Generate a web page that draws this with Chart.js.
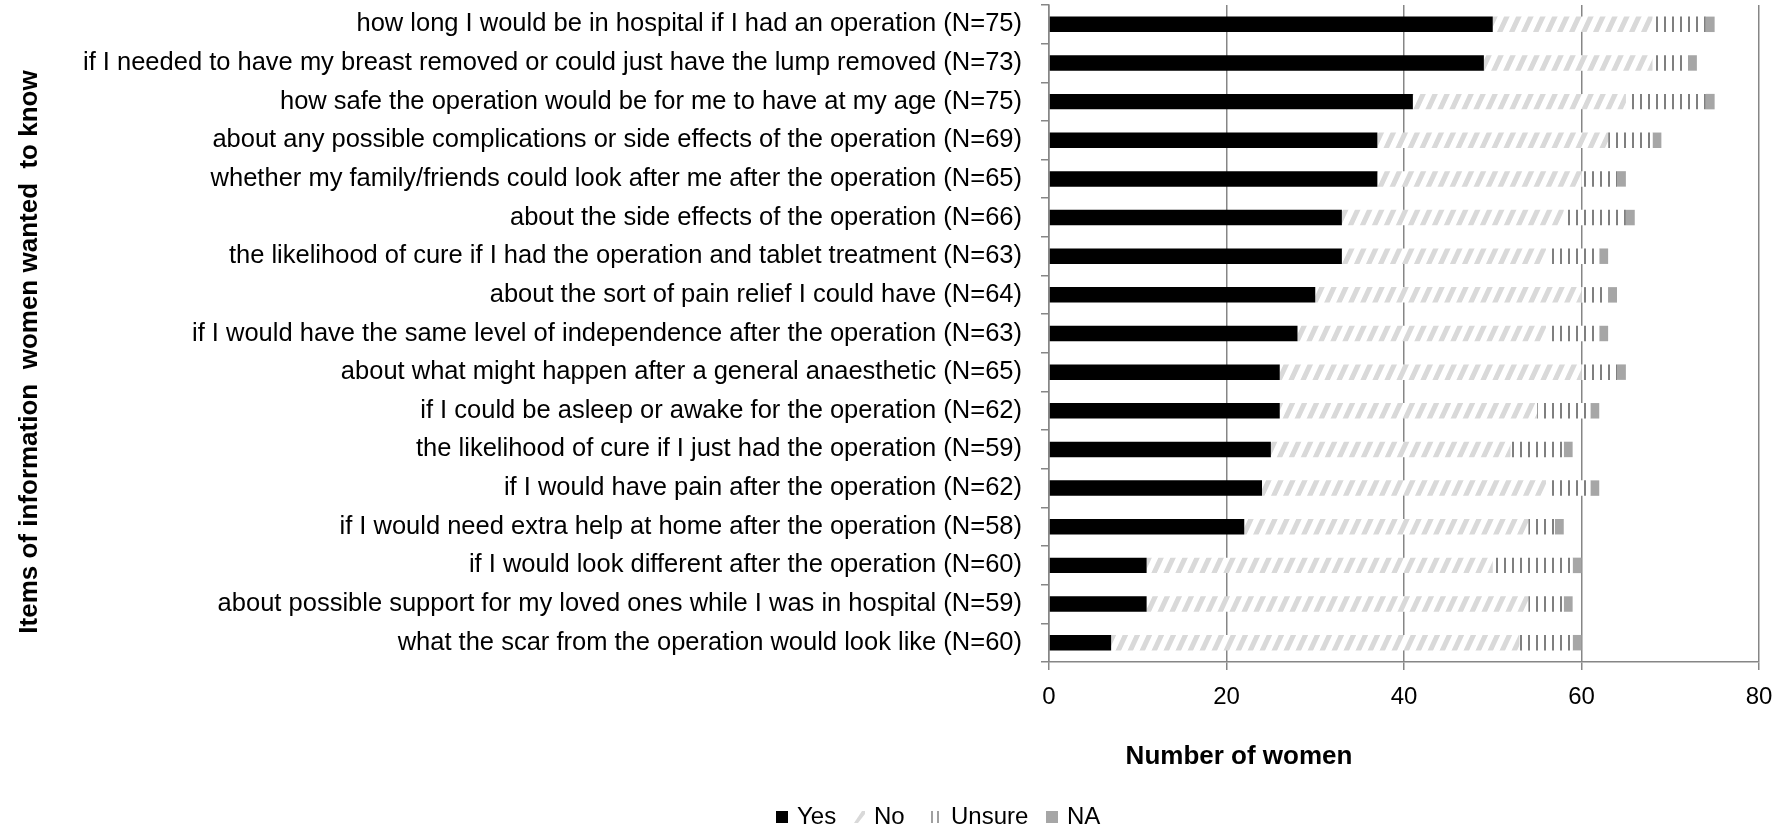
<!DOCTYPE html>
<html>
<head>
<meta charset="utf-8">
<title>Items of information women wanted to know</title>
<script src="https://cdn.jsdelivr.net/npm/chart.js@4.4.0/dist/chart.umd.min.js"></script>
<style>
  html, body { margin: 0; padding: 0; background: #fff; }
  #wrap { width: 1785px; height: 830px; }
</style>
</head>
<body>
<div id="wrap"><canvas id="infoChart" width="1785" height="830"></canvas></div>
<script>
// Items, top to bottom as in the figure
const categories = [
  "how long I would be in hospital if I had an operation (N=75)",
  "if I needed to have my breast removed or could just have the lump removed (N=73)",
  "how safe the operation would be for me to have at my age (N=75)",
  "about any possible complications or side effects of the operation (N=69)",
  "whether my family/friends could look after me after the operation (N=65)",
  "about the side effects of the operation (N=66)",
  "the likelihood of cure if I had the operation and tablet treatment (N=63)",
  "about the sort of pain relief I could have (N=64)",
  "if I would have the same level of independence after the operation (N=63)",
  "about what might happen after a general anaesthetic (N=65)",
  "if I could be asleep or awake for the operation (N=62)",
  "the likelihood of cure if I just had the operation (N=59)",
  "if I would have pain after the operation (N=62)",
  "if I would need extra help at home after the operation (N=58)",
  "if I would look different after the operation (N=60)",
  "about possible support for my loved ones while I was in hospital (N=59)",
  "what the scar from the operation would look like (N=60)"
];

const yesValues    = [50, 49, 41, 37, 37, 33, 33, 30, 28, 26, 26, 25, 24, 22, 11, 11, 7];
const noValues     = [18, 19, 24, 26, 23, 25, 23, 30, 28, 34, 29, 27, 32, 32, 39, 43, 46];
const unsureValues = [6, 4, 9, 5, 4, 7, 6, 3, 6, 4, 6, 6, 5, 3, 9, 4, 6];
const naValues     = [1, 1, 1, 1, 1, 1, 1, 1, 1, 1, 1, 1, 1, 1, 1, 1, 1];

const seriesNames = ["Yes", "No", "Unsure", "NA"];
const xTicks = [0, 20, 40, 60, 80];
const xTitle = "Number of women";
const yTitle = "Items of information  women wanted  to know";

const FONT = '"Liberation Sans", Arial, sans-serif';
const AXIS_GREY = '#868686';
const HATCH_GREY = '#d9d9d9';
const LINE_GREY = '#7f7f7f';

// --- fill patterns (Excel style) ---
function hatchPattern() {
  const c = document.createElement('canvas');
  const w = 12, h = 26;
  c.width = w; c.height = h;
  const g = c.getContext('2d');
  g.fillStyle = '#fff';
  g.fillRect(0, 0, w, h);
  g.fillStyle = HATCH_GREY;
  for (let y = 0; y < h; y++) {
    const x0 = (h - 1 - y) * w / h;
    g.fillRect(x0, y, 5.5, 1);
    g.fillRect(x0 - w, y, 5.5, 1);
  }
  return g.createPattern(c, 'repeat');
}

function verticalLinePattern() {
  const c = document.createElement('canvas');
  c.width = 8; c.height = 4;
  const g = c.getContext('2d');
  g.fillStyle = '#fff';
  g.fillRect(0, 0, 8, 4);
  g.fillStyle = LINE_GREY;
  g.fillRect(0, 0, 2, 4);
  return g.createPattern(c, 'repeat');
}

// legend swatches, one per series
function drawSwatch(ctx, i, x, y) {
  const s = 12;
  if (i === 0) {
    ctx.fillStyle = '#000';
    ctx.fillRect(x, y - s / 2, s, s);
  } else if (i === 1) {
    ctx.fillStyle = HATCH_GREY;
    ctx.beginPath();
    ctx.moveTo(x + 1, y + s / 2);
    ctx.lineTo(x + 5, y + s / 2);
    ctx.lineTo(x + s, y - s / 2 + 3);
    ctx.lineTo(x + s, y - s / 2);
    ctx.lineTo(x + 9, y - s / 2);
    ctx.closePath();
    ctx.fill();
  } else if (i === 2) {
    ctx.fillStyle = '#a0a0a0';
    ctx.fillRect(x + 1, y - s / 2, 2, s);
    ctx.fillRect(x + 7, y - s / 2, 2, s);
  } else {
    ctx.fillStyle = '#a6a6a6';
    ctx.fillRect(x, y - s / 2, s, s);
  }
}

// titles and legend drawn by hand so they sit where the original has them
const overlayPlugin = {
  id: 'overlay',
  afterDraw(chart) {
    const ctx = chart.ctx;
    ctx.save();
    ctx.fillStyle = '#000';
    ctx.textBaseline = 'middle';

    // y axis title
    ctx.save();
    ctx.font = 'bold 26px ' + FONT;
    ctx.textAlign = 'center';
    ctx.translate(30, 352);
    ctx.rotate(-Math.PI / 2);
    ctx.fillText(yTitle, 0, 0);
    ctx.restore();

    // x axis title
    ctx.font = 'bold 26px ' + FONT;
    ctx.textAlign = 'center';
    ctx.fillText(xTitle, 1239, 757);

    // legend
    ctx.font = '24px ' + FONT;
    ctx.textAlign = 'left';
    const legendX = [776, 853, 930, 1046];
    const y = 817;
    chart.data.datasets.forEach((ds, i) => {
      drawSwatch(ctx, i, legendX[i], y);
      ctx.fillStyle = '#000';
      ctx.fillText(ds.label, legendX[i] + 21, y);
    });
    ctx.restore();
  }
};

const ctx = document.getElementById('infoChart').getContext('2d');
const infoChart = new Chart(ctx, {
  type: 'bar',
  data: {
    labels: categories,
    datasets: [
      { label: seriesNames[0], data: yesValues, backgroundColor: '#000000' },
      { label: seriesNames[1], data: noValues, backgroundColor: hatchPattern() },
      { label: seriesNames[2], data: unsureValues, backgroundColor: verticalLinePattern() },
      { label: seriesNames[3], data: naValues, backgroundColor: '#a6a6a6' }
    ]
  },
  options: {
    indexAxis: 'y',
    responsive: false,
    animation: false,
    layout: { padding: { top: 5, right: 26, left: 0, bottom: 0 } },
    datasets: {
      bar: { barPercentage: 0.4, categoryPercentage: 1.0, borderWidth: 0 }
    },
    plugins: {
      legend: { display: false },
      tooltip: { enabled: false }
    },
    scales: {
      x: {
        stacked: true,
        min: 0,
        max: 80,
        afterBuildTicks: scale => { scale.ticks = xTicks.map(v => ({ value: v })); },
        afterFit: scale => {
          scale.height = 168;
          scale.paddingLeft = 0;
          scale.paddingRight = 0;
        },
        grid: { color: AXIS_GREY, lineWidth: 1.5, tickLength: 8, drawTicks: true },
        border: { color: AXIS_GREY, width: 1.5 },
        ticks: { color: '#000', padding: 13, font: { family: FONT, size: 24 } }
      },
      y: {
        stacked: true,
        afterFit: scale => {
          scale.width = 1049;
          scale.paddingTop = 0;
          scale.paddingBottom = 0;
        },
        grid: { drawOnChartArea: false, drawTicks: true, tickLength: 8, color: AXIS_GREY, lineWidth: 1.5, offset: true },
        border: { color: AXIS_GREY, width: 1.5 },
        ticks: { color: '#000', padding: 19, autoSkip: false, font: { family: FONT, size: 25.5 } }
      }
    }
  },
  plugins: [overlayPlugin]
});
</script>
</body>
</html>
